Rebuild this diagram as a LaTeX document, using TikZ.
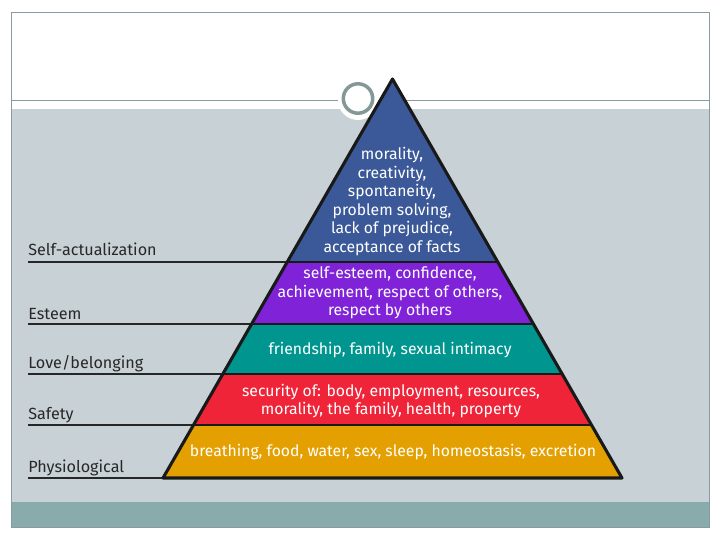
\documentclass[tikz,border=0pt]{standalone}
\usepackage{fontspec}
\setmainfont{Fira Sans}
\usepackage{xcolor}
\usepackage{tikz}
\usetikzlibrary{positioning}
\definecolor{slidegray}{RGB}{199, 209, 214}
\definecolor{slideteal}{RGB}{138, 171, 171}
\definecolor{framegray}{RGB}{135, 155, 160}
\definecolor{ringgray}{RGB}{132, 152, 152}
\definecolor{tierblue}{RGB}{59, 89, 152}
\definecolor{tierpurple}{RGB}{127, 34, 216}
\definecolor{tierteal}{RGB}{0, 150, 143}
\definecolor{tierred}{RGB}{240, 36, 56}
\definecolor{tierorange}{RGB}{228, 160, 0}
\definecolor{labeltext}{RGB}{40, 40, 40}

\begin{document}
\begin{tikzpicture}[
  x=0.025cm, y=-0.025cm,
  tiertext/.style={text=white, align=center, inner sep=0pt, font=\fontsize{11.2}{13.2}\selectfont},
  tierlabel/.style={anchor=base west, inner sep=0pt, text=labeltext, font=\fontsize{11.5}{13}\selectfont},
  labelrule/.style={line width=1.4pt, draw=black!85},
  bandrule/.style={line width=2pt, draw=black!90},
  pyredge/.style={line width=2.2pt, draw=black!90, line join=round}
]
\useasboundingbox (0,0) rectangle (720,540);

% Slide background
\fill[white] (0,0) rectangle (720,540);
\fill[slidegray] (11,109) rectangle (709,502);
\fill[slideteal] (11,502) rectangle (709,527);
\draw[framegray, line width=0.7pt] (11,12) rectangle (709,527);
\draw[framegray, line width=0.7pt] (11,100) -- (709,100);

% Ring on the title rule
\fill[white] (358,100) circle (0.5cm);
\draw[ringgray, line width=2.5pt] (358,98.5) circle (0.3675cm);

% Pyramid corners and band edges (left / right)
\coordinate (apex) at (392.5,79);
\coordinate (l1) at (287.6,262); \coordinate (r1) at (497.4,262);
\coordinate (l2) at (251.8,324); \coordinate (r2) at (533.2,324);
\coordinate (l3) at (223.0,374); \coordinate (r3) at (562.0,374);
\coordinate (l4) at (193.6,425); \coordinate (r4) at (591.4,425);
\coordinate (bl) at (163,478);   \coordinate (br) at (622,478);

% Bands
\fill[tierblue]   (apex) -- (r1) -- (l1) -- cycle;
\fill[tierpurple] (l1) -- (r1) -- (r2) -- (l2) -- cycle;
\fill[tierteal]   (l2) -- (r2) -- (r3) -- (l3) -- cycle;
\fill[tierred]    (l3) -- (r3) -- (r4) -- (l4) -- cycle;
\fill[tierorange] (l4) -- (r4) -- (br) -- (bl) -- cycle;

% Band texts
\node[tiertext] (needs5) at (392,201.5)
  {morality,\\creativity,\\spontaneity,\\problem solving,\\lack of prejudice,\\acceptance of facts};
\node[tiertext] (needs4) at (390,293)
  {self-esteem, confidence,\\achievement, respect of others,\\respect by others};
\node[tiertext] (needs3) at (390,350) {friendship, family, sexual intimacy};
\node[tiertext] (needs2) at (391,401)
  {security of: body, employment, resources,\\morality, the family, health, property};
\node[tiertext] (needs1) at (393,452)
  {breathing, food, water, sex, sleep, homeostasis, excretion};

% Level names on the left
\node[tierlabel] (selfact) at (28,255) {Self-actualization};
\node[tierlabel] (esteem)  at (28,319) {Esteem};
\node[tierlabel] (love)    at (28,368) {Love/belonging};
\node[tierlabel] (safety)  at (28,419) {Safety};
\node[tierlabel] (physio)  at (28,472) {Physiological};

% Rules under the names, running into the pyramid
\coordinate (s1) at (28,262);
\coordinate (s2) at (28,324);
\coordinate (s3) at (28,374);
\coordinate (s4) at (28,425);
\coordinate (s5) at (28,478);
\draw[labelrule] (s1) -- (l1);
\draw[labelrule] (s2) -- (l2);
\draw[labelrule] (s3) -- (l3);
\draw[labelrule] (s4) -- (l4);
\draw[labelrule] (s5) -- (bl);
\draw[bandrule] (l1) -- (r1);
\draw[bandrule] (l2) -- (r2);
\draw[bandrule] (l3) -- (r3);
\draw[bandrule] (l4) -- (r4);

% Outline
\draw[pyredge] (apex) -- (br) -- (bl) -- cycle;

\end{tikzpicture}
\end{document}
